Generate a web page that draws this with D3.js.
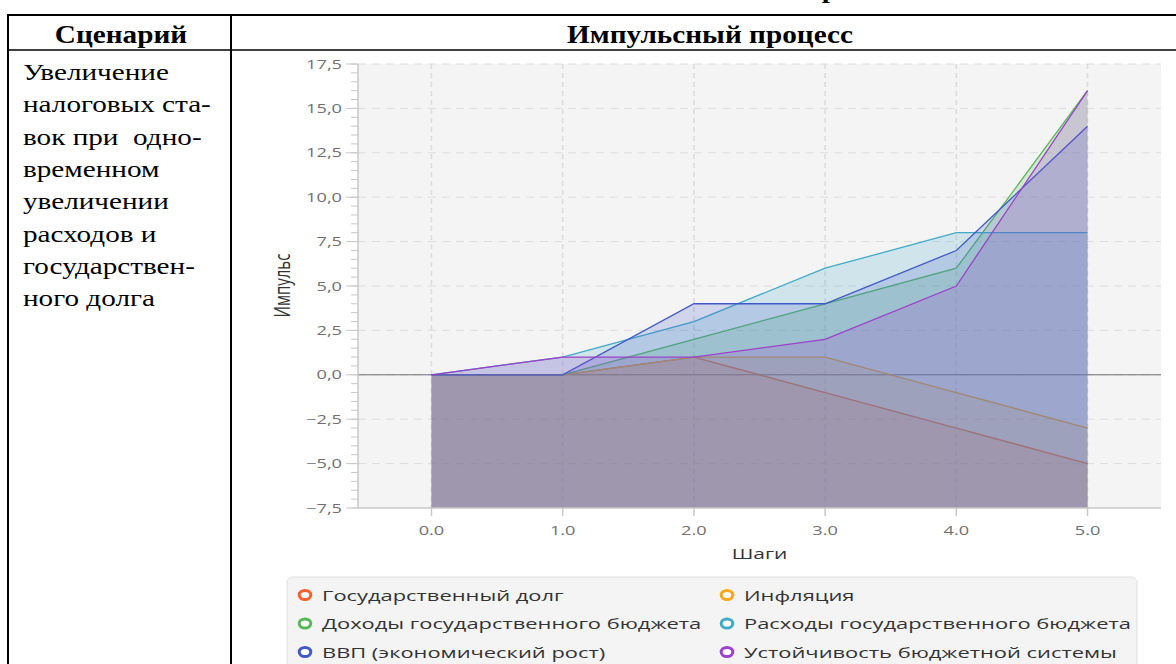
<!DOCTYPE html>
<html>
<head>
<meta charset="utf-8">
<script src="https://cdn.jsdelivr.net/npm/d3@7"></script>
<style>
  body { margin: 0; background: #fff; }
  svg { display: block; }
  text { white-space: pre; }
</style>
</head>
<body>
<script>
// --- data ---
var steps = [0, 1, 2, 3, 4, 5];
var seriesNames = ["Государственный долг", "Инфляция", "Доходы государственного бюджета",
                   "Расходы государственного бюджета", "ВВП (экономический рост)", "Устойчивость бюджетной системы"];
var debt      = [0, 0, 1, -1, -3, -5];
var inflation = [0, 0, 1, 1, -1, -3];
var revenue   = [0, 0, 2, 4, 6, 16];
var spending  = [0, 1, 3, 6, 8, 8];
var gdp       = [0, 0, 4, 4, 7, 14];
var stability = [0, 1, 1, 2, 5, 16];
var yTicks = [-7.5, -5, -2.5, 0, 2.5, 5, 7.5, 10, 12.5, 15, 17.5];
var scenarioLines = ["Увеличение", "налоговых ста-", "вок при  одно-", "временном",
                     "увеличении", "расходов и", "государствен-", "ного долга"];

var allSeries = [debt, inflation, revenue, spending, gdp, stability];
var colors = ["#f3622d", "#fba71b", "#57b757", "#41a9c9", "#4258c9", "#9a42c8"];

var W = 1176, H = 664;
var svg = d3.select("body").append("svg").attr("width", W).attr("height", H);

// picture is stretched sideways, so text gets a horizontal scale
function stxt(g, x, y, str, sx, size, family, opts) {
  opts = opts || {};
  return g.append("text")
    .attr("transform", "translate(" + x + "," + y + ") scale(" + sx + ",1)" + (opts.rot ? " rotate(" + opts.rot + ")" : ""))
    .attr("font-family", family)
    .attr("font-size", size)
    .attr("font-weight", opts.bold ? "bold" : null)
    .attr("text-anchor", opts.anchor || "start")
    .attr("fill", opts.fill || "#000")
    .text(str);
}

// ---------------- table ----------------
var serif = "'Liberation Serif','Times New Roman',serif";
var tbl = svg.append("g");
tbl.append("line").attr("x1", 8).attr("x2", W).attr("y1", 15).attr("y2", 15).attr("stroke", "#000").attr("stroke-width", 2);
tbl.append("line").attr("x1", 8).attr("x2", W).attr("y1", 50).attr("y2", 50).attr("stroke", "#000").attr("stroke-width", 1.5);
tbl.append("line").attr("x1", 8).attr("x2", 8).attr("y1", 14).attr("y2", H).attr("stroke", "#000").attr("stroke-width", 2);
tbl.append("line").attr("x1", 231).attr("x2", 231).attr("y1", 14).attr("y2", H).attr("stroke", "#000").attr("stroke-width", 2);

// tail of the line above the table, cut by the top edge
stxt(tbl, 830, -2.5, "р", 1.17, 25, serif, {bold: true, anchor: "middle"});
stxt(tbl, 121, 43, "Сценарий", 1.17, 25, serif, {bold: true, anchor: "middle"});
stxt(tbl, 710, 43, "Импульсный процесс", 1.17, 25, serif, {bold: true, anchor: "middle"});

scenarioLines.forEach(function(s, i) {
  stxt(tbl, 23, 80 + i * 32.3, s, 1.27, 23, serif);
});

// ---------------- chart ----------------
var sans = "'Open Sans','Noto Sans',sans-serif";
var SX = 1.4;
var x = d3.scaleLinear().domain([-0.56, 5.56]).range([358, 1161]);
var y = d3.scaleLinear().domain([-7.5, 17.5]).range([508, 64]);
var ch = svg.append("g");

ch.append("rect").attr("x", x.range()[0]).attr("y", y.range()[1])
  .attr("width", x.range()[1] - x.range()[0]).attr("height", y.range()[0] - y.range()[1])
  .attr("fill", "#f4f4f4");

// grid
ch.append("g").selectAll("line").data(yTicks.slice(1)).enter().append("line")
  .attr("x1", x.range()[0]).attr("x2", x.range()[1])
  .attr("y1", function(d) { return y(d); }).attr("y2", function(d) { return y(d); })
  .attr("stroke", "#dcdcdc").attr("stroke-width", 1).attr("stroke-dasharray", "8,6");
ch.append("g").selectAll("line").data(steps).enter().append("line")
  .attr("x1", function(d) { return x(d); }).attr("x2", function(d) { return x(d); })
  .attr("y1", y.range()[1]).attr("y2", y.range()[0])
  .attr("stroke", "#dcdcdc").attr("stroke-width", 1.6).attr("stroke-dasharray", "5,4");

// zero line
ch.append("line").attr("x1", x.range()[0]).attr("x2", x.range()[1])
  .attr("y1", y(0)).attr("y2", y(0)).attr("stroke", "#6e6e6e").attr("stroke-width", 1);

// areas (filled down to the lower bound), drawn series by series
var area = d3.area().x(function(d, i) { return x(steps[i]); }).y0(y(-7.5)).y1(function(d) { return y(d); });
var line = d3.line().x(function(d, i) { return x(steps[i]); }).y(function(d) { return y(d); });
allSeries.forEach(function(vals, k) {
  var g = ch.append("g");
  g.append("path").attr("d", area(vals)).attr("fill", colors[k]).attr("fill-opacity", 0.2);
  g.append("path").attr("d", line(vals)).attr("fill", "none").attr("stroke", colors[k]).attr("stroke-width", 1.3);
});

// axes
var ax = ch.append("g").attr("stroke", "#c8c8c8");
ax.append("line").attr("x1", 358).attr("x2", 358).attr("y1", y.range()[1]).attr("y2", y.range()[0]).attr("stroke-width", 1.5);
ax.append("line").attr("x1", x.range()[0]).attr("x2", x.range()[1]).attr("y1", 508).attr("y2", 508).attr("stroke-width", 1.5);
var minor = d3.range(-7.5, 17.51, 0.5);
ax.selectAll(".mn").data(minor).enter().append("line")
  .attr("x1", 351).attr("x2", 358).attr("y1", function(d) { return y(d); }).attr("y2", function(d) { return y(d); });
ax.selectAll(".mj").data(yTicks).enter().append("line")
  .attr("x1", 346).attr("x2", 358).attr("y1", function(d) { return y(d); }).attr("y2", function(d) { return y(d); });
ax.selectAll(".xt").data(steps).enter().append("line")
  .attr("x1", function(d) { return x(d); }).attr("x2", function(d) { return x(d); }).attr("y1", 508).attr("y2", 516).attr("stroke-width", 1.5);

yTicks.forEach(function(t) {
  stxt(ch, 342, y(t) + 4.5, d3.format(".1f")(t).replace(".", ","), SX, 13, sans, {anchor: "end", fill: "#707070"});
});
steps.forEach(function(t) {
  stxt(ch, x(t), 535, d3.format(".1f")(t), SX, 13, sans, {anchor: "middle", fill: "#707070"});
});

stxt(ch, (x.range()[0] + x.range()[1]) / 2, 559, "Шаги", SX, 15, sans, {anchor: "middle", fill: "#333"});
stxt(ch, 290, 285.5, "Импульс", SX, 15, sans, {anchor: "middle", fill: "#333", rot: -90});

// legend
var lg = ch.append("g");
lg.append("rect").attr("x", 287).attr("y", 577).attr("width", 850).attr("height", 110).attr("rx", 6)
  .attr("fill", "#f4f4f4").attr("stroke", "#dedede");
var colX = [305, 727];
seriesNames.forEach(function(name, i) {
  var cx = colX[i % 2], cy = 595 + Math.floor(i / 2) * 28.5;
  lg.append("ellipse").attr("cx", cx).attr("cy", cy).attr("rx", 5.8).attr("ry", 4.6)
    .attr("fill", "#fff").attr("stroke", colors[i]).attr("stroke-width", 3);
  stxt(lg, cx + 17, cy + 5.5, name, 1.46, 15, sans, {fill: "#333"});
});
</script>
</body>
</html>
